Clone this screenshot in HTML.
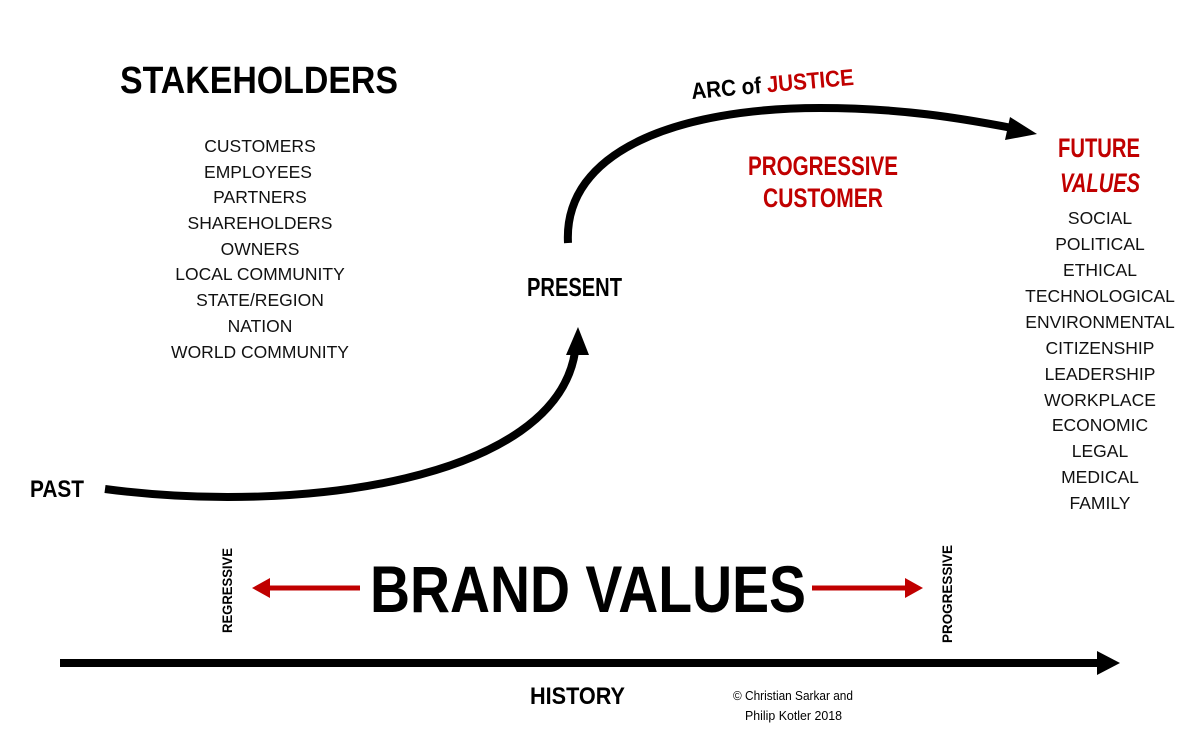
<!DOCTYPE html>
<html><head><meta charset="utf-8"><style>
html,body{margin:0;padding:0;background:#fff;}
svg{display:block;}
text{font-family:"Liberation Sans Narrow","Liberation Sans",sans-serif;}
.b{font-weight:bold;}
.l{font-family:"Liberation Sans",sans-serif;font-size:17.5px;fill:#111;}
</style></head><body>
<svg width="1200" height="731" viewBox="0 0 1200 731" xmlns="http://www.w3.org/2000/svg">
<text x="120" y="93" class="b" font-size="38" textLength="278" lengthAdjust="spacingAndGlyphs">STAKEHOLDERS</text>
<g class="l" text-anchor="middle">
<text x="260" y="152">CUSTOMERS</text>
<text x="258" y="178">EMPLOYEES</text>
<text x="260" y="203">PARTNERS</text>
<text x="260" y="229">SHAREHOLDERS</text>
<text x="260" y="255">OWNERS</text>
<text x="260" y="280">LOCAL COMMUNITY</text>
<text x="260" y="306">STATE/REGION</text>
<text x="260" y="332">NATION</text>
<text x="260" y="358">WORLD COMMUNITY</text>
</g>
<text x="30" y="497" class="b" font-size="24" textLength="54" lengthAdjust="spacingAndGlyphs">PAST</text>
<path d="M105,489 C300,515 555,480 575,352" fill="none" stroke="#000" stroke-width="8"/>
<polygon points="578,327 566,355 589,355" fill="#000"/>
<text x="527" y="296" class="b" font-size="26" textLength="95" lengthAdjust="spacingAndGlyphs">PRESENT</text>
<path d="M568,243 C563,150 680,108 820,108 C900,108 960,118 1012,128" fill="none" stroke="#000" stroke-width="8"/>
<polygon points="1037,134 1010,117 1005,140" fill="#000"/>
<text x="692" y="99" class="b" font-size="23" transform="rotate(-5 692 99)" textLength="163" lengthAdjust="spacingAndGlyphs"><tspan>ARC of </tspan><tspan fill="#c00000">JUSTICE</tspan></text>
<g class="b" fill="#c00000" font-size="27" text-anchor="middle">
<text x="823" y="175" textLength="150" lengthAdjust="spacingAndGlyphs">PROGRESSIVE</text>
<text x="823" y="207" textLength="120" lengthAdjust="spacingAndGlyphs">CUSTOMER</text>
<text x="1099" y="157" textLength="82" lengthAdjust="spacingAndGlyphs">FUTURE</text>
<text x="1100" y="192" font-style="italic" textLength="80" lengthAdjust="spacingAndGlyphs">VALUES</text>
</g>
<g class="l" text-anchor="middle">
<text x="1100" y="224">SOCIAL</text>
<text x="1100" y="250">POLITICAL</text>
<text x="1100" y="276">ETHICAL</text>
<text x="1100" y="302">TECHNOLOGICAL</text>
<text x="1100" y="328">ENVIRONMENTAL</text>
<text x="1100" y="354">CITIZENSHIP</text>
<text x="1100" y="380">LEADERSHIP</text>
<text x="1100" y="406">WORKPLACE</text>
<text x="1100" y="431">ECONOMIC</text>
<text x="1100" y="457">LEGAL</text>
<text x="1100" y="483">MEDICAL</text>
<text x="1100" y="509">FAMILY</text>
</g>
<text x="370" y="612" class="b" font-size="66" textLength="436" lengthAdjust="spacingAndGlyphs">BRAND VALUES</text>
<line x1="360" y1="588" x2="268" y2="588" stroke="#c00000" stroke-width="5"/>
<polygon points="252,588 270,578 270,598" fill="#c00000"/>
<line x1="812" y1="588" x2="906" y2="588" stroke="#c00000" stroke-width="5"/>
<polygon points="923,588 905,578 905,598" fill="#c00000"/>
<text transform="translate(232,633) rotate(-90)" class="b" font-size="14" textLength="85" lengthAdjust="spacingAndGlyphs">REGRESSIVE</text>
<text transform="translate(952,643) rotate(-90)" class="b" font-size="14" textLength="98" lengthAdjust="spacingAndGlyphs">PROGRESSIVE</text>
<line x1="60" y1="663" x2="1100" y2="663" stroke="#000" stroke-width="8"/>
<polygon points="1120,663 1097,651 1097,675" fill="#000"/>
<text x="530" y="704" class="b" font-size="24" textLength="95" lengthAdjust="spacingAndGlyphs">HISTORY</text>
<text x="733" y="700" font-size="13" textLength="120" lengthAdjust="spacingAndGlyphs">© Christian Sarkar and</text>
<text x="745" y="720" font-size="13" textLength="97" lengthAdjust="spacingAndGlyphs">Philip Kotler 2018</text>
</svg>
</body></html>
